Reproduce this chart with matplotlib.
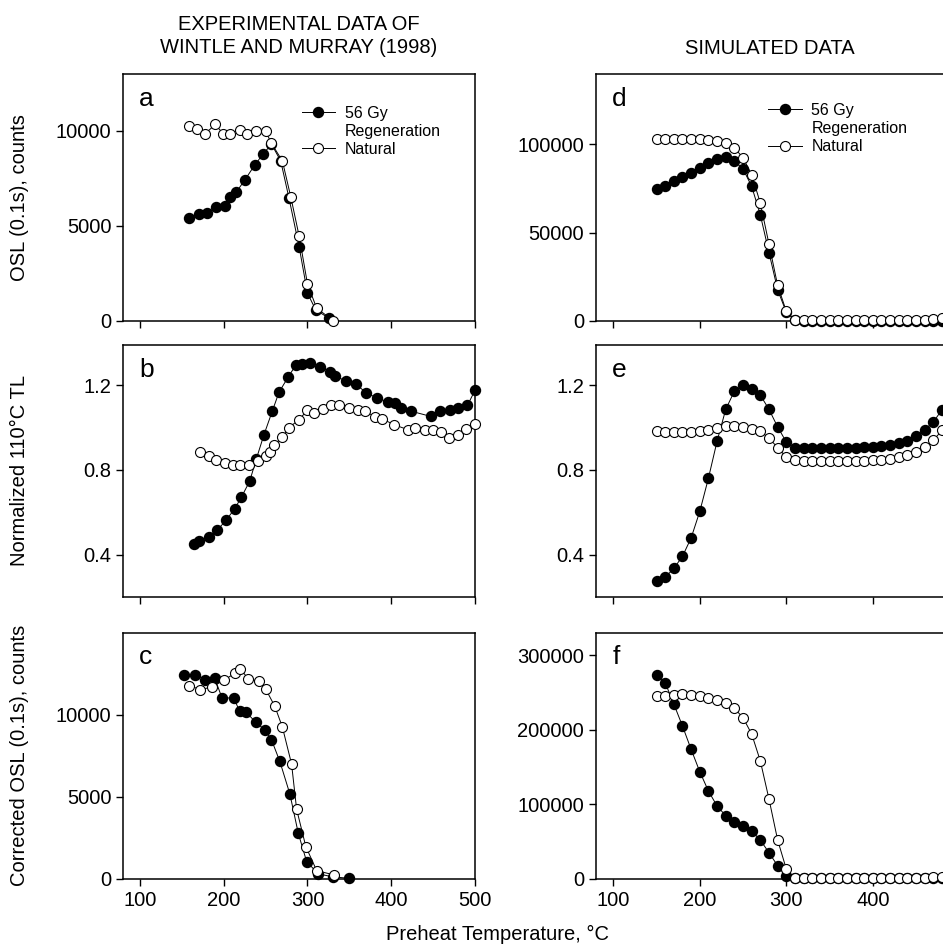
import matplotlib
matplotlib.use('Agg')
import matplotlib.pyplot as plt
from matplotlib.lines import Line2D

plt.rcParams['font.family'] = ['Liberation Sans', 'DejaVu Sans']
NARROW = ['Liberation Sans Narrow', 'Liberation Sans', 'DejaVu Sans']

a_reg_T = [158, 170, 180, 191, 201, 207, 215, 225, 237, 247, 257, 268, 278, 290, 300, 310, 326]
a_reg = [5390, 5600, 5690, 5970, 6040, 6490, 6780, 7400, 8200, 8780, 9300, 8420, 6440, 3900, 1440, 560, 120]
a_nat_T = [158, 168, 178, 190, 199, 207, 219, 228, 238, 250, 257, 270, 280, 290, 300, 311, 331]
a_nat = [10260, 10090, 9860, 10340, 9860, 9860, 10040, 9860, 9990, 9990, 9340, 8420, 6530, 4460, 1930, 650, 0]

b_reg_T = [164, 170, 182, 192, 203, 213, 221, 231, 239, 248, 258, 266, 277, 286, 293, 303, 315,
           327, 333, 346, 358, 370, 383, 396, 405, 412, 424, 447, 458, 470, 480, 491, 500]
b_reg = [0.450, 0.463, 0.482, 0.514, 0.564, 0.616, 0.671, 0.747, 0.853, 0.966, 1.078, 1.167, 1.239,
         1.295, 1.298, 1.307, 1.287, 1.263, 1.243, 1.220, 1.205, 1.164, 1.140, 1.121, 1.116, 1.094,
         1.077, 1.053, 1.077, 1.085, 1.093, 1.105, 1.176]
b_nat_T = [172, 182, 191, 201, 211, 219, 230, 241, 250, 255, 260, 270, 278, 290, 300, 308, 319,
           328, 338, 349, 360, 369, 381, 389, 403, 420, 428, 440, 450, 459, 469, 480, 489, 500]
b_nat = [0.884, 0.864, 0.848, 0.834, 0.821, 0.821, 0.821, 0.842, 0.866, 0.884, 0.916, 0.955, 1.000,
         1.038, 1.082, 1.069, 1.090, 1.105, 1.105, 1.093, 1.085, 1.077, 1.050, 1.042, 1.014, 0.990,
         0.998, 0.987, 0.987, 0.979, 0.951, 0.967, 0.995, 1.019]

c_reg_T = [153, 166, 178, 189, 198, 212, 219, 227, 238, 249, 257, 267, 279, 289, 299, 313, 330, 350]
c_reg = [12440, 12440, 12140, 12240, 11020, 11020, 10200, 10140, 9550, 9080, 8470, 7150, 5160,
         2770, 1040, 290, 120, 20]
c_nat_T = [159, 172, 186, 200, 214, 220, 229, 242, 250, 261, 270, 281, 287, 298, 311, 332]
c_nat = [11770, 11530, 11690, 12100, 12550, 12790, 12200, 12030, 11570, 10510, 9250, 6990, 4240,
         1960, 490, 230]

# --- simulated data, every 10 C ---
sim_T = list(range(150, 490, 10))
d_reg = [74670, 76570, 79050, 81330, 83810, 86670, 89520, 91810, 92760, 90480, 86100, 76190,
         60000, 38670, 17520, 4760] + [300] + [0] * 17
d_nat = [102860, 102860, 102860, 102860, 102860, 102860, 102500, 101900, 101000, 98100, 92380,
         82860, 66670, 43430, 20000, 5330] + [400] * 16 + [800, 1500]
e_reg = [0.277, 0.293, 0.335, 0.392, 0.479, 0.604, 0.761, 0.936, 1.086, 1.172, 1.200, 1.184,
         1.153, 1.086, 1.003, 0.932, 0.905, 0.903, 0.903, 0.903, 0.903, 0.903, 0.903, 0.905,
         0.907, 0.910, 0.915, 0.920, 0.928, 0.935, 0.959, 0.990, 1.026, 1.085]
e_nat = [0.982, 0.979, 0.979, 0.979, 0.979, 0.984, 0.990, 0.999, 1.006, 1.007, 1.003, 0.992,
         0.982, 0.951, 0.905, 0.861, 0.845] + [0.842] * 7 + [0.843, 0.845, 0.848, 0.853, 0.861,
         0.869, 0.884, 0.908, 0.940, 0.987]
f_reg = [273170, 262860, 234280, 204780, 173530, 143500, 117610, 97500, 84490, 76440, 71080,
         63970, 51900, 34870, 17430, 3620] + [300] * 18
f_nat = [245410, 245410, 246750, 247200, 246750, 245410, 242730, 239600, 235220, 228510, 215900,
         194060, 157840, 106880, 51900, 13010] + [500] * 16 + [1800, 2500]

left_xticks = [100, 200, 300, 400, 500]
right_xticks = [100, 200, 300, 400]   # 500 falls past the right edge of the figure


def draw_pair(ax, t_reg, reg, t_nat, nat):
    ax.plot(t_reg, reg, '-o', color='black', lw=0.7, ms=7.2, mfc='black', mec='black',
            clip_on=False, zorder=3)
    ax.plot(t_nat, nat, '-o', color='black', lw=0.7, ms=7.2, mfc='white', mec='black',
            mew=0.8, clip_on=False, zorder=4)


def style_axis(ax, ylim, yticks, xticks, letter, show_xlabels):
    ax.set_xlim(80, 500)
    ax.set_ylim(*ylim)
    ax.set_xticks(xticks)
    ax.set_yticks(yticks)
    ax.tick_params(direction='out', length=5, width=1, labelsize=14.5, top=False, right=False)
    if not show_xlabels:
        ax.tick_params(labelbottom=False)
    for s in ax.spines.values():
        s.set_linewidth(1.1)
    ax.text(0.045, 0.90, letter, transform=ax.transAxes, fontsize=19, va='center', ha='left')


def add_legend(ax, x, y):
    handles = [Line2D([], [], color='black', lw=0.7, marker='o', ms=7.2, mfc='black'),
               Line2D([], [], linestyle='none'),
               Line2D([], [], color='black', lw=0.7, marker='o', ms=7.2, mfc='white', mew=0.8)]
    labels = ['56 Gy', 'Regeneration', 'Natural']
    ax.legend(handles, labels, loc='upper left', bbox_to_anchor=(x, y), frameon=False,
              fontsize=11.5, handlelength=2.1, handletextpad=0.6, labelspacing=0.2,
              borderpad=0, borderaxespad=0, numpoints=1)


fig = plt.figure(figsize=(9.43, 9.47), dpi=100)

left_x, left_w = 0.1307, 0.3730
right_x, right_w = 0.6320, 0.3853
rows = [(0.6614, 0.2605), (0.3696, 0.2661), (0.0721, 0.2598)]

ax_a = fig.add_axes([left_x, rows[0][0], left_w, rows[0][1]])
ax_b = fig.add_axes([left_x, rows[1][0], left_w, rows[1][1]])
ax_c = fig.add_axes([left_x, rows[2][0], left_w, rows[2][1]])
ax_d = fig.add_axes([right_x, rows[0][0], right_w, rows[0][1]])
ax_e = fig.add_axes([right_x, rows[1][0], right_w, rows[1][1]])
ax_f = fig.add_axes([right_x, rows[2][0], right_w, rows[2][1]])

draw_pair(ax_a, a_reg_T, a_reg, a_nat_T, a_nat)
draw_pair(ax_b, b_reg_T, b_reg, b_nat_T, b_nat)
draw_pair(ax_c, c_reg_T, c_reg, c_nat_T, c_nat)
draw_pair(ax_d, sim_T, d_reg, sim_T, d_nat)
draw_pair(ax_e, sim_T, e_reg, sim_T, e_nat)
draw_pair(ax_f, sim_T, f_reg, sim_T, f_nat)

style_axis(ax_a, (0, 13000), [0, 5000, 10000], left_xticks, 'a', False)
style_axis(ax_b, (0.2, 1.39), [0.4, 0.8, 1.2], left_xticks, 'b', False)
style_axis(ax_c, (0, 15000), [0, 5000, 10000], left_xticks, 'c', True)
style_axis(ax_d, (0, 140000), [0, 50000, 100000], right_xticks, 'd', False)
style_axis(ax_e, (0.2, 1.39), [0.4, 0.8, 1.2], right_xticks, 'e', False)
style_axis(ax_f, (0, 330000), [0, 100000, 200000, 300000], right_xticks, 'f', True)

add_legend(ax_a, 0.507, 0.872)
add_legend(ax_d, 0.474, 0.882)

# titles and axis labels
fig.text(299 / 943, 1 - 36 / 947, 'EXPERIMENTAL DATA OF\nWINTLE AND MURRAY (1998)',
         ha='center', va='center', fontsize=14.5, family=NARROW, linespacing=1.25)
fig.text(770 / 943, 1 - 48 / 947, 'SIMULATED DATA', ha='center', va='center',
         fontsize=14.5, family=NARROW)
fig.text(20 / 943, 1 - 198 / 947, 'OSL (0.1s), counts', rotation=90, ha='center',
         va='center', fontsize=14.5, family=NARROW)
fig.text(20 / 943, 1 - 470 / 947, 'Normalized 110°C TL', rotation=90, ha='center',
         va='center', fontsize=14.5, family=NARROW)
fig.text(20 / 943, 1 - 755 / 947, 'Corrected OSL (0.1s), counts', rotation=90, ha='center',
         va='center', fontsize=14.5, family=NARROW)
fig.text(498 / 943, 1 - 934 / 947, 'Preheat Temperature, °C', ha='center', va='center',
         fontsize=14.5, family=NARROW)

fig.savefig('out.png', dpi=100)
